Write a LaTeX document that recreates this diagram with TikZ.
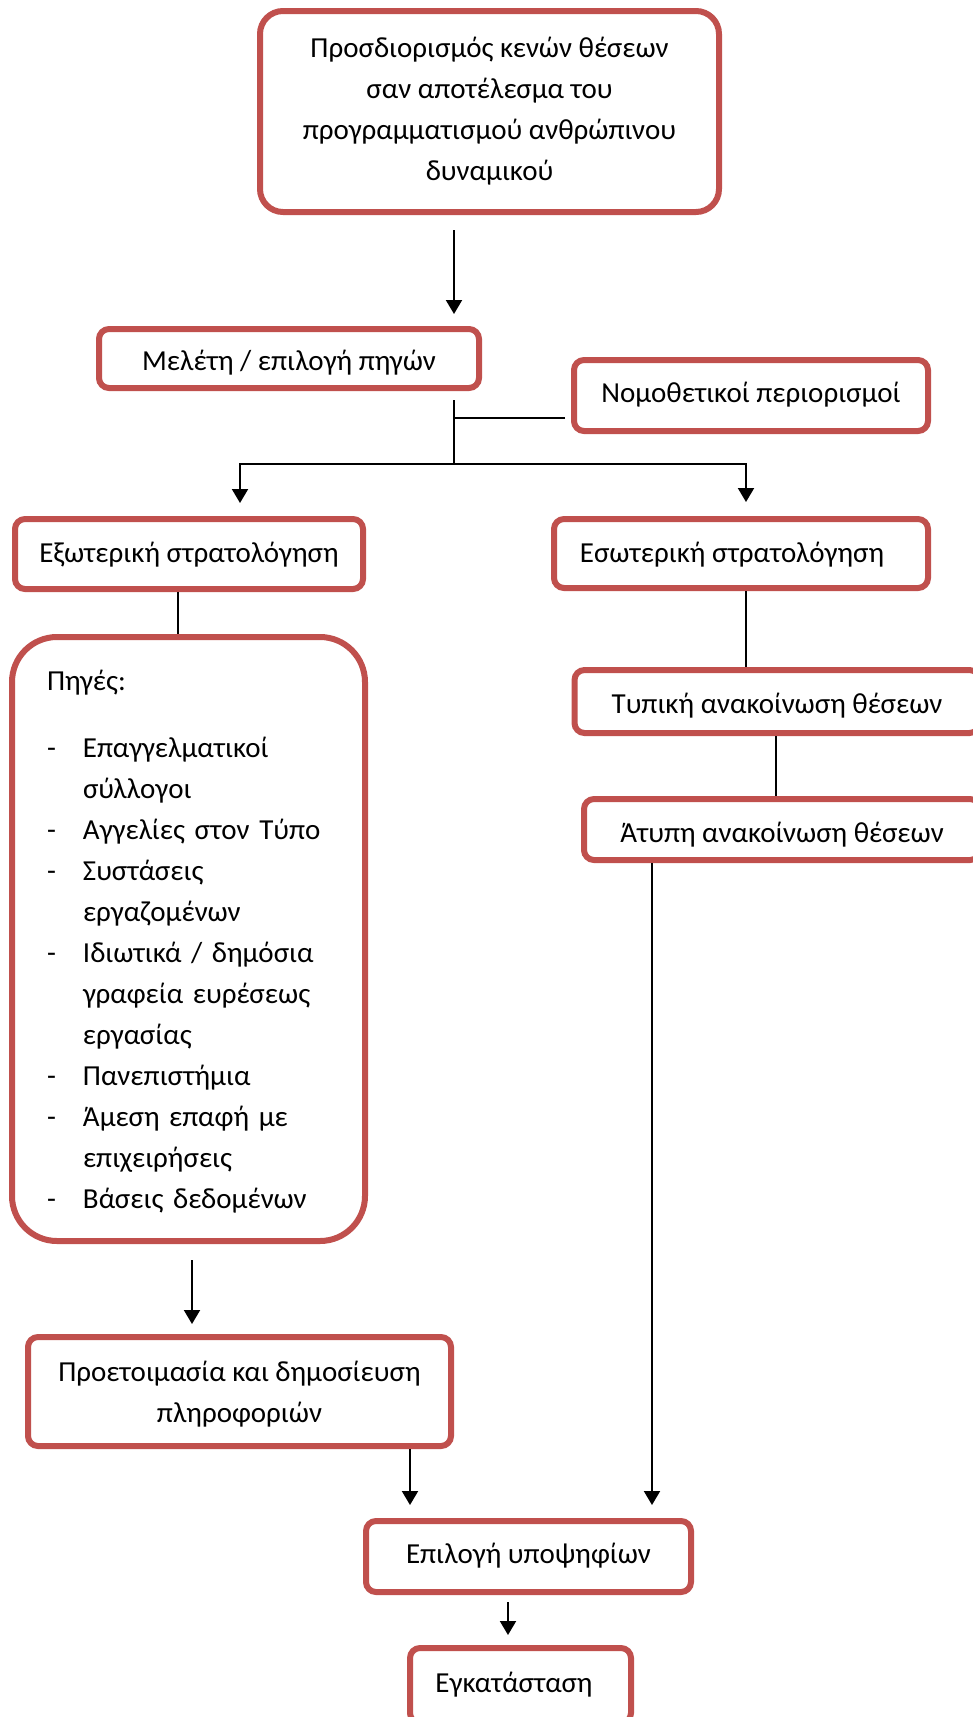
\documentclass[tikz,border=0pt]{standalone}
\usepackage{fontspec}
\setmainfont{Carlito}
\usetikzlibrary{arrows.meta,calc}
\definecolor{boxred}{RGB}{192,80,77}
\begin{document}
\begin{tikzpicture}[x=1pt,y=-1pt,
  box/.style={draw=boxred,line width=6pt,fill=white,rounded corners=10pt,inner sep=0pt,
    font=\fontsize{29}{41}\selectfont,text height=30pt},
  conn/.style={line width=2pt},
  arr/.style={conn,-{Triangle[length=14pt,width=16pt]}}]
\useasboundingbox (0,0) rectangle (973,1717);
\clip (0,0) rectangle (973,1717);

\node[box,minimum width=459pt,minimum height=201pt,rounded corners=23pt,align=center,
  text height=145pt,text depth=8pt] (top) at (489.5,111.5)
  {Προσδιορισμός κενών θέσεων\\σαν αποτέλεσμα του\\προγραμματισμού ανθρώπινου\\δυναμικού};
\node[box,minimum width=380pt,minimum height=59pt,text depth=7pt] (meleti) at (289,358.5) {Μελέτη / επιλογή πηγών};
\node[box,minimum width=354pt,minimum height=71pt,text depth=17pt] (nomo) at (751,395.5) {Νομοθετικοί περιορισμοί};
\node[box,minimum width=348pt,minimum height=70pt,text depth=14pt] (exo) at (189,554) {Εξωτερική στρατολόγηση};
\node[box,minimum width=374pt,minimum height=69pt,text depth=13pt] (eso) at (741,553.5) {Εσωτερική στρατολόγηση\hspace*{18pt}};
\node[box,minimum width=353pt,minimum height=604pt,rounded corners=45pt,text width=283pt,align=left,
  text height=25pt,text depth=523pt] (piges) at (188.5,939)
  {\mbox{Πηγές:}\\[26pt]
   \mbox{\makebox[36pt][l]{-}Επαγγελματικοί}\\
   \mbox{\hspace*{36pt}σύλλογοι}\\
   \mbox{\makebox[36pt][l]{-}Αγγελίες στον Τύπο}\\
   \mbox{\makebox[36pt][l]{-}Συστάσεις}\\
   \mbox{\hspace*{36pt}εργαζομένων}\\
   \mbox{\makebox[36pt][l]{-}Ιδιωτικά / δημόσια}\\
   \mbox{\hspace*{36pt}γραφεία ευρέσεως}\\
   \mbox{\hspace*{36pt}εργασίας}\\
   \mbox{\makebox[36pt][l]{-}Πανεπιστήμια}\\
   \mbox{\makebox[36pt][l]{-}Άμεση επαφή με}\\
   \mbox{\hspace*{36pt}επιχειρήσεις}\\
   \mbox{\makebox[36pt][l]{-}Βάσεις δεδομένων}};
\node[box,minimum width=405pt,minimum height=63pt,text depth=7pt] (typ) at (777,701.5) {Τυπική ανακοίνωση θέσεων};
\node[box,minimum width=396pt,minimum height=61pt,text depth=5pt] (aty) at (782,829.5) {Άτυπη ανακοίνωση θέσεων};
\node[box,minimum width=423pt,minimum height=109pt,align=center,text height=69pt,text depth=8pt] (proet) at (239.5,1391.5)
  {Προετοιμασία και δημοσίευση\\πληροφοριών};
\node[box,minimum width=325pt,minimum height=71pt,text depth=17pt] (epil) at (528.5,1556.5) {Επιλογή υποψηφίων};
\node[box,minimum width=221pt,minimum height=75pt,text depth=17pt] (egk) at (520.5,1685.5) {Εγκατάσταση\hspace*{13pt}};

% connectors
\coordinate (j) at (454,464);
\draw[arr] ($(top.south -| j)+(0,15)$) -- ($(meleti.north -| j)+(0,-12)$);
\draw[conn] ($(meleti.south -| j)+(0,9)$) -- (j);
\draw[conn] ($(nomo.west)+(-6,22.5)$) -- ($(nomo.west -| j)+(0,22.5)$);
\draw[arr] (j) -| ($(exo.north)+(51,-13)$);
\draw[arr] (j) -| ($(eso.north)+(5,-14)$);
\coordinate (a) at ($(exo.south)+(-11,0)$);
\draw[conn] (a) -- (a |- piges.north);
\coordinate (b) at ($(eso.south)+(5,0)$);
\draw[conn] (b) -- (b |- typ.north);
\coordinate (c) at ($(typ.south)+(-1,0)$);
\draw[conn] (c) -- (c |- aty.north);
\coordinate (d) at ($(aty.south)+(-130,0)$);
\draw[arr] (d) -- ($(d |- epil.north)+(0,-13)$);
\coordinate (e) at ($(piges.south)+(3.5,16)$);
\draw[arr] (e) -- ($(e |- proet.north)+(0,-10)$);
\coordinate (f) at ($(proet.south)+(170.5,0)$);
\draw[arr] (f) -- ($(f |- epil.north)+(0,-13)$);
\coordinate (g) at ($(epil.south)+(-20.5,7)$);
\draw[arr] (g) -- ($(g |- egk.north)+(0,-10)$);
\end{tikzpicture}
\end{document}
